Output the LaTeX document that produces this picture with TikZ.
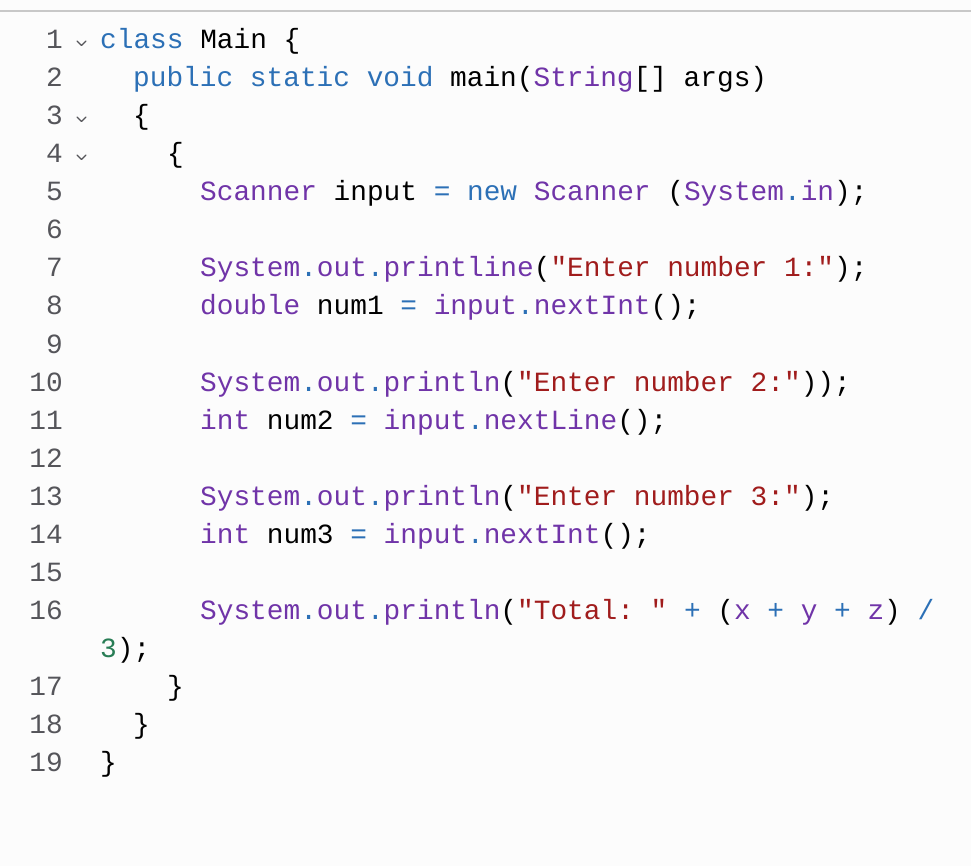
\documentclass[tikz,border=0pt]{standalone}
\usepackage{fontspec}
\newfontfamily\codefont{Liberation Mono}
\definecolor{kw}{RGB}{44,112,182}
\definecolor{ty}{RGB}{112,52,168}
\definecolor{st}{RGB}{160,28,28}
\definecolor{nu}{RGB}{40,125,85}
\definecolor{ln}{RGB}{85,85,90}
\definecolor{bg}{RGB}{252,252,252}
\newcommand\Kw[1]{\textcolor{kw}{#1}}
\newcommand\Ty[1]{\textcolor{ty}{#1}}
\newcommand\St[1]{\textcolor{st}{#1}}
\newcommand\Nu[1]{\textcolor{nu}{#1}}
\newcommand\Dt{\Kw{.}}
\begin{document}
\begin{tikzpicture}[x=1pt,y=-1pt,
  code/.style={anchor=base west,inner sep=0pt,font=\codefont\fontsize{27.8}{30}\selectfont},
  num/.style={anchor=base east,inner sep=0pt,text=ln,font=\codefont\fontsize{27.8}{30}\selectfont},
  chev/.style={draw=ln,line width=1.3pt,line cap=round,line join=round}]
\fill[bg] (0,0) rectangle (971,866);
\useasboundingbox (0,0) rectangle (971,866);
\draw[line width=2pt,draw={rgb,255:red,200;green,200;blue,200}] (0,11) -- (971,11);
\def\B#1{49+38*(#1-1)}
\foreach \n in {1,...,16} {\node[num] (n\n) at (63,{\B{\n}}) {\n};}
\node[num] (n17) at (63,{\B{18}}) {17};
\node[num] (n18) at (63,{\B{19}}) {18};
\node[num] (n19) at (63,{\B{20}}) {19};
\foreach \n in {1,3,4} {\draw[chev] (77,{\B{\n}-8}) -- (81.5,{\B{\n}-3.5}) -- (86,{\B{\n}-8});}
\node[code] (l1) at (100,{\B{1}}) {\Kw{class} Main \{};
\node[code] (l2) at (133,{\B{2}}) {\Kw{public} \Kw{static} \Kw{void} main(\Ty{String}[] args)};
\node[code] (l3) at (133,{\B{3}}) {\{};
\node[code] (l4) at (167,{\B{4}}) {\{};
\node[code] (l5) at (200,{\B{5}}) {\Ty{Scanner} input \Kw{=} \Kw{new} \Ty{Scanner} (\Ty{System}\Dt\Ty{in});};
\node[code] (l7) at (200,{\B{7}}) {\Ty{System}\Dt\Ty{out}\Dt\Ty{printline}(\St{"Enter number 1:"});};
\node[code] (l8) at (200,{\B{8}}) {\Ty{double} num1 \Kw{=} \Ty{input}\Dt\Ty{nextInt}();};
\node[code] (l10) at (200,{\B{10}}) {\Ty{System}\Dt\Ty{out}\Dt\Ty{println}(\St{"Enter number 2:"}));};
\node[code] (l11) at (200,{\B{11}}) {\Ty{int} num2 \Kw{=} \Ty{input}\Dt\Ty{nextLine}();};
\node[code] (l13) at (200,{\B{13}}) {\Ty{System}\Dt\Ty{out}\Dt\Ty{println}(\St{"Enter number 3:"});};
\node[code] (l14) at (200,{\B{14}}) {\Ty{int} num3 \Kw{=} \Ty{input}\Dt\Ty{nextInt}();};
\node[code] (l16) at (200,{\B{16}}) {\Ty{System}\Dt\Ty{out}\Dt\Ty{println}(\St{"Total:\ "} \Kw{+} (\Ty{x} \Kw{+} \Ty{y} \Kw{+} \Ty{z}) \Kw{/}};
\node[code] (l16b) at (100,{\B{17}}) {\Nu{3});};
\node[code] (l17) at (167,{\B{18}}) {\}};
\node[code] (l18) at (133,{\B{19}}) {\}};
\node[code] (l19) at (100,{\B{20}}) {\}};
\end{tikzpicture}
\end{document}
